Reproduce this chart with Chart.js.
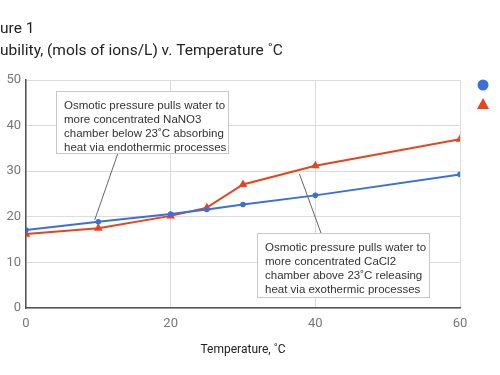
<!doctype html>
<html lang="en">
<head>
<meta charset="utf-8">
<title>Solubility v. Temperature</title>
<script src="https://cdn.jsdelivr.net/npm/chart.js"></script>
<style>
  html, body { margin: 0; padding: 0; background: #fff; }
  #wrap { width: 500px; height: 375px; position: relative; }
</style>
</head>
<body>
<div id="wrap"><canvas id="chart"></canvas></div>
<script>
// temperatures (C)
const temps = [0, 10, 20, 25, 30, 40, 60];
// solubility, mols of ions / L
const nano3 = [17.1, 18.9, 20.6, 21.6, 22.7, 24.7, 29.3];
const cacl2 = [16.2, 17.5, 20.2, 22.0, 27.1, 31.2, 37.0];
const seriesNames = ['NaNO3', 'CaCl2'];
const xTicks = [0, 20, 40, 60];
const titleLines = ['Figure 1', 'Solubility, (mols of ions/L) v. Temperature \u02daC'];
const notes = [
  {lines: ['Osmotic pressure pulls water to', 'more concentrated NaNO3',
           'chamber below 23\u02daC absorbing', 'heat via endothermic processes'],
   at: [9.5, 19.3]},
  {lines: ['Osmotic pressure pulls water to', 'more concentrated CaCl2',
           'chamber above 23\u02daC releasing', 'heat via exothermic processes'],
   at: [37.8, 29.4]}
];

const BLUE = '#3b6fd9';
const RED = '#e8431a';
const FONT = 'Roboto, Arial, sans-serif';

function pairs(ys) { return temps.map((t, i) => ({x: t, y: ys[i]})); }

// title, legend and callouts are partly cut off in the original, so draw them by hand
const extras = {
  id: 'extras',
  afterDraw(chart) {
    const ctx = chart.ctx;
    const xs = chart.scales.x, ys = chart.scales.y;
    ctx.save();
    // title (clipped at the left edge)
    ctx.fillStyle = '#222';
    ctx.font = '15.5px ' + FONT;
    ctx.textBaseline = 'alphabetic';
    ctx.textAlign = 'left';
    ctx.fillText(titleLines[0], -ctx.measureText('Fig').width, 33);
    ctx.fillText(titleLines[1], -ctx.measureText('Sol').width, 55);

    // legend (clipped at right edge)
    ctx.fillStyle = BLUE;
    ctx.beginPath(); ctx.arc(483, 85, 5.5, 0, Math.PI * 2); ctx.fill();
    ctx.fillStyle = RED;
    ctx.beginPath(); ctx.moveTo(483, 98); ctx.lineTo(489, 109); ctx.lineTo(477, 109); ctx.closePath(); ctx.fill();
    ctx.fillStyle = '#222';
    ctx.font = '13px ' + FONT;
    ctx.textBaseline = 'middle';
    ctx.fillText(seriesNames[0], 499.5, 86);
    ctx.fillText(seriesNames[1], 499.5, 104);

    // callouts
    const boxes = [{x: 56, y: 91, w: 172, h: 62, from: [118, 153]},
                   {x: 257, y: 233, w: 172, h: 64, from: [321, 233]}];
    ctx.font = '11.5px Arial, "Liberation Sans", sans-serif';
    ctx.textBaseline = 'alphabetic';
    notes.forEach((n, i) => {
      const b = boxes[i];
      const tx = xs.getPixelForValue(n.at[0]), ty = ys.getPixelForValue(n.at[1]);
      ctx.strokeStyle = '#666';
      ctx.lineWidth = 1;
      ctx.beginPath(); ctx.moveTo(b.from[0], b.from[1]); ctx.lineTo(tx, ty); ctx.stroke();
      ctx.fillStyle = '#fff';
      ctx.fillRect(b.x, b.y, b.w, b.h);
      ctx.strokeStyle = '#c8c8c8';
      ctx.strokeRect(b.x + 0.5, b.y + 0.5, b.w, b.h);
      ctx.fillStyle = '#333';
      n.lines.forEach((l, j) => ctx.fillText(l, b.x + 8, b.y + 18 + j * 14));
    });
    ctx.restore();
  }
};

new Chart(document.getElementById('chart'), {
  type: 'line',
  data: {
    datasets: [
      {label: seriesNames[0], data: pairs(nano3), borderColor: BLUE, backgroundColor: BLUE,
       borderWidth: 2, pointRadius: 1.8, pointStyle: 'circle', tension: 0},
      {label: seriesNames[1], data: pairs(cacl2), borderColor: RED, backgroundColor: RED,
       borderWidth: 2, pointRadius: 3, pointStyle: 'triangle', tension: 0}
    ]
  },
  options: {
    responsive: true,
    maintainAspectRatio: false,
    animation: false,
    layout: {padding: {top: 80, right: 40, left: 0, bottom: 0}},
    plugins: {legend: {display: false}, tooltip: {enabled: false}},
    scales: {
      x: {
        type: 'linear', min: 0, max: 60,
        afterFit: s => { s.height = 67; },
        afterBuildTicks: s => { s.ticks = xTicks.map(v => ({value: v})); },
        ticks: {color: '#777', font: {family: FONT, size: 13}, padding: 8},
        grid: {color: '#dcdcdc', drawTicks: false, lineWidth: 1},
        border: {color: '#555', width: 1.5},
        title: {display: true, text: 'Temperature, \u02daC', color: '#222',
                font: {family: FONT, size: 12}, padding: {top: 0, bottom: 18}}
      },
      y: {
        min: 0, max: 50,
        afterFit: s => { s.width = 26; },
        ticks: {stepSize: 10, color: '#777', font: {family: FONT, size: 13}, padding: 5},
        grid: {color: '#dcdcdc', drawTicks: false, lineWidth: 1},
        border: {color: '#555', width: 1.5}
      }
    }
  },
  plugins: [extras]
});
</script>
</body>
</html>
